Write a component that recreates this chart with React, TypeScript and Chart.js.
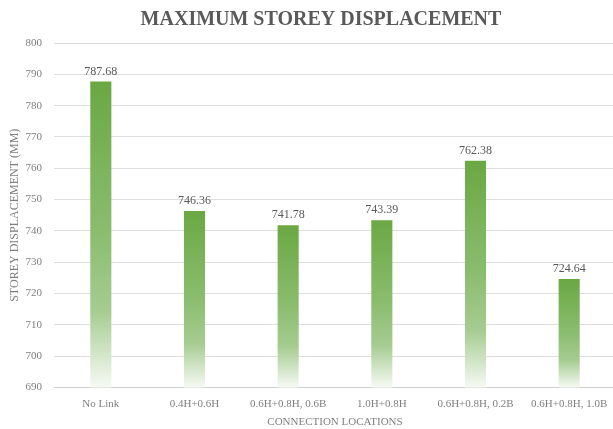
import React, { useEffect, useRef } from "react";
import { Chart, registerables } from "chart.js";

Chart.register(...registerables);

const categories = [
  "No Link",
  "0.4H+0.6H",
  "0.6H+0.8H, 0.6B",
  "1.0H+0.8H",
  "0.6H+0.8H, 0.2B",
  "0.6H+0.8H, 1.0B",
];
const displacement = [787.68, 746.36, 741.78, 743.39, 762.38, 724.64];
const yMin = 690;
const yMax = 800;
const yStep = 10;

const FONT = "'Liberation Serif', 'DejaVu Serif', serif";

const valueLabels = {
  id: "valueLabels",
  afterDatasetsDraw(chart: any) {
    const ctx = chart.ctx;
    const meta = chart.getDatasetMeta(0);
    ctx.save();
    ctx.font = `12px ${FONT}`;
    ctx.fillStyle = "#595959";
    ctx.textAlign = "center";
    ctx.textBaseline = "alphabetic";
    meta.data.forEach((el: any, i: number) => {
      const v = chart.data.datasets[0].data[i];
      ctx.fillText(v.toFixed(2), el.x, el.y - 7);
    });
    ctx.restore();
  },
};

export default function App() {
  const ref = useRef<HTMLCanvasElement | null>(null);
  useEffect(() => {
    document.body.style.margin = "0";
    const canvas = ref.current!;
    const chart = new Chart(canvas, {
      type: "bar",
      data: {
        labels: categories,
        datasets: [
          {
            data: displacement,
            borderWidth: 0,
            categoryPercentage: 1,
            barPercentage: 0.225,
            backgroundColor: (c: any) => {
              const ch = c.chart;
              const ys = ch.scales && ch.scales.y;
              if (!ys || c.dataIndex === undefined) return "#70ad47";
              const top = ys.getPixelForValue(c.raw);
              const bot = ys.getPixelForValue(yMin);
              if (!isFinite(top) || !isFinite(bot) || top === bot) return "#70ad47";
              const g = ch.ctx.createLinearGradient(0, top, 0, bot);
              g.addColorStop(0, "#6aa843");
              g.addColorStop(0.5, "#8bbd6f");
              g.addColorStop(0.75, "#a6cc91");
              g.addColorStop(1, "#f6faf4");
              return g;
            },
          },
        ],
      },
      options: {
        responsive: false,
        animation: false,
        layout: { padding: 0 },
        plugins: {
          legend: { display: false },
          tooltip: { enabled: false },
          title: {
            display: true,
            text: "MAXIMUM STOREY DISPLACEMENT",
            color: "#595959",
            font: { family: FONT, size: 20, weight: "bold" },
            padding: { top: 8, bottom: 11 },
          },
        },
        scales: {
          x: {
            grid: { display: false },
            border: { display: false },
            ticks: {
              color: "#7f7f7f",
              font: { family: FONT, size: 11 },
              padding: 2,
              maxRotation: 0,
              autoSkip: false,
            },
            title: {
              display: true,
              text: "CONNECTION LOCATIONS",
              color: "#7f7f7f",
              font: { family: FONT, size: 11 },
              padding: { top: 4, bottom: 0 },
            },
            afterFit: (s: any) => {
              s.height = 41.5;
            },
          },
          y: {
            min: yMin,
            max: yMax,
            border: { display: false },
            grid: {
              color: (c: any) => (c.tick && c.tick.value === yMin ? "#cfcfcf" : "#dedede"),
              lineWidth: 1,
              drawTicks: false,
            },
            ticks: {
              stepSize: yStep,
              color: "#7f7f7f",
              font: { family: FONT, size: 11 },
              padding: 12,
            },
            title: {
              display: true,
              text: "STOREY DISPLACEMENT (MM)",
              color: "#7f7f7f",
              font: { family: FONT, size: 12 },
              padding: { top: 8, bottom: 0 },
            },
            afterFit: (s: any) => {
              s.width = 54;
            },
          },
          yRightSpace: {
            type: "linear",
            position: "right",
            display: true,
            grid: { display: false, drawTicks: false },
            border: { display: false },
            ticks: { display: false },
            afterFit: (s: any) => {
              s.width = 26;
            },
          },
        },
      },
      plugins: [valueLabels],
    });
    return () => chart.destroy();
  }, []);
  return (
    <div style={{ width: 613, height: 429, overflow: "hidden" }}>
      <canvas ref={ref} width={642} height={429} style={{ display: "block" }} />
    </div>
  );
}
